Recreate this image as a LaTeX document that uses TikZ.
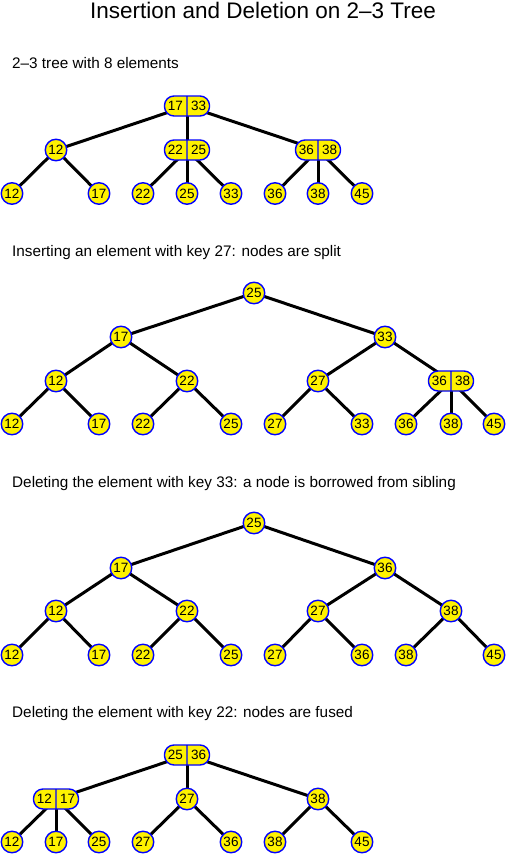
\documentclass[tikz,border=0pt]{standalone}
\usepackage{fontspec}
\setmainfont{Liberation Sans}
\usetikzlibrary{shapes.multipart,backgrounds}
\begin{document}
\begin{tikzpicture}[x=1pt,y=-1pt,
  kn/.style={circle,draw=blue,fill=yellow,line width=1.4pt,minimum size=21.5pt,inner sep=0pt,font=\fontsize{13.5}{13.5}\selectfont},
  two/.style={rectangle split,rectangle split horizontal,rectangle split parts=2,rounded corners=9.5pt,draw=blue,fill=yellow,line width=1.4pt,minimum height=20pt,inner xsep=3.4pt,inner ysep=0pt,font=\fontsize{13.5}{13.5}\selectfont},
  ed/.style={line width=3pt,black},
  lab/.style={anchor=base west,inner sep=0pt,font=\fontsize{15.3}{15.3}\selectfont},
  ttl/.style={anchor=base,inner sep=0pt,font=\fontsize{22.5}{22.5}\selectfont}]
\useasboundingbox (0,0) rectangle (508,854);
\node[ttl] (title) at (263,18.5) {Insertion and Deletion on 2–3 Tree};
% ---------- tree 1
\node[lab] (l1) at (12,68) {2–3 tree with 8 elements};
\node[two] (a) at (187,106) {17\nodepart{two}33};
\node[kn] (a1) at (56,150) {12};
\node[two] (a2) at (187,150) {22\nodepart{two}25};
\node[two] (a3) at (318,150) {36\nodepart{two}38};
\node[kn] (a11) at (12,193.5) {12};
\node[kn] (a12) at (99,193.5) {17};
\node[kn] (a21) at (143,193.5) {22};
\node[kn] (a22) at (187,193.5) {25};
\node[kn] (a23) at (231,193.5) {33};
\node[kn] (a31) at (275,193.5) {36};
\node[kn] (a32) at (318,193.5) {38};
\node[kn] (a33) at (362,193.5) {45};
% ---------- tree 2
\node[lab] (l2) at (12,256) {Inserting an element with key 27: nodes are split};
\node[kn] (b) at (254,293) {25};
\node[kn] (b1) at (121,337) {17};
\node[kn] (b2) at (385,337) {33};
\node[kn] (b11) at (56,381) {12};
\node[kn] (b12) at (187,381) {22};
\node[kn] (b21) at (318,381) {27};
\node[two] (b22) at (451,381) {36\nodepart{two}38};
\node[kn] (b111) at (12,424) {12};
\node[kn] (b112) at (99,424) {17};
\node[kn] (b121) at (143,424) {22};
\node[kn] (b122) at (231,424) {25};
\node[kn] (b211) at (275,424) {27};
\node[kn] (b212) at (362,424) {33};
\node[kn] (b221) at (406,424) {36};
\node[kn] (b222) at (451,424) {38};
\node[kn] (b223) at (494,424) {45};
% ---------- tree 3
\node[lab] (l3) at (12,487) {Deleting the element with key 33: a node is borrowed from sibling};
\node[kn] (c) at (254,523) {25};
\node[kn] (c1) at (121,568) {17};
\node[kn] (c2) at (385,568) {36};
\node[kn] (c11) at (56,611) {12};
\node[kn] (c12) at (187,611) {22};
\node[kn] (c21) at (318,611) {27};
\node[kn] (c22) at (451,611) {38};
\node[kn] (c111) at (12,655) {12};
\node[kn] (c112) at (99,655) {17};
\node[kn] (c121) at (143,655) {22};
\node[kn] (c122) at (231,655) {25};
\node[kn] (c211) at (275,655) {27};
\node[kn] (c212) at (362,655) {36};
\node[kn] (c221) at (406,655) {38};
\node[kn] (c222) at (494,655) {45};
% ---------- tree 4
\node[lab] (l4) at (12,717) {Deleting the element with key 22: nodes are fused};
\node[two] (d) at (187,755) {25\nodepart{two}36};
\node[two] (d1) at (56,799) {12\nodepart{two}17};
\node[kn] (d2) at (187,799) {27};
\node[kn] (d3) at (318,799) {38};
\node[kn] (d11) at (12,842) {12};
\node[kn] (d12) at (56,842) {17};
\node[kn] (d13) at (99,842) {25};
\node[kn] (d21) at (143,842) {27};
\node[kn] (d22) at (231,842) {36};
\node[kn] (d31) at (275,842) {38};
\node[kn] (d32) at (362,842) {45};
\begin{pgfonlayer}{background}
\foreach \p/\c in {a/a1,a/a2,a/a3,a1/a11,a1/a12,a2/a21,a2/a22,a2/a23,a3/a31,a3/a32,a3/a33,
  b/b1,b/b2,b1/b11,b1/b12,b2/b21,b2/b22,b11/b111,b11/b112,b12/b121,b12/b122,b21/b211,b21/b212,b22/b221,b22/b222,b22/b223,
  c/c1,c/c2,c1/c11,c1/c12,c2/c21,c2/c22,c11/c111,c11/c112,c12/c121,c12/c122,c21/c211,c21/c212,c22/c221,c22/c222,
  d/d1,d/d2,d/d3,d1/d11,d1/d12,d1/d13,d2/d21,d2/d22,d3/d31,d3/d32}
  \draw[ed] (\p.center) -- (\c.center);
\end{pgfonlayer}
\end{tikzpicture}
\end{document}
